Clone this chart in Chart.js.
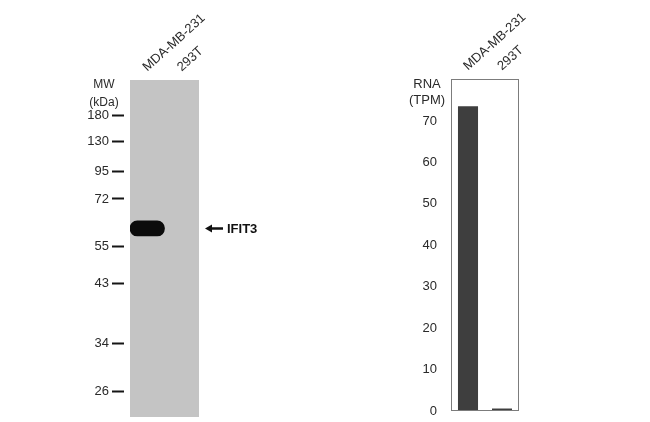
<!DOCTYPE html>
<html><head><meta charset="utf-8">
<script src="https://cdn.jsdelivr.net/npm/chart.js@4"></script>
<style>
html,body{margin:0;padding:0;background:#fff;width:650px;height:422px;overflow:hidden}
.c{position:absolute;top:0;width:325px;height:422px}
</style></head><body>
<div class="c" style="left:0"><canvas id="blot" width="325" height="422"></canvas></div>
<div class="c" style="left:325px"><canvas id="rna" width="325" height="422"></canvas></div>
<script>
// ---- data ----
const lanes = ['MDA-MB-231', '293T'];
const mwLabels = ['180', '130', '95', '72', '55', '43', '34', '26'];
const mwMobility = [0.106, 0.183, 0.272, 0.353, 0.495, 0.605, 0.783, 0.925]; // relative migration in lane
const bandMobility = [[0.418, 0.463], null];
const bandLabel = 'IFIT3';
const rnaValues = [73.6, 0.6];
const rnaTicks = [0, 10, 20, 30, 40, 50, 60, 70];

const FONT = "'Liberation Sans', Arial, sans-serif";
const TXT = '#2a2a2a';
Chart.defaults.font.family = FONT;
Chart.defaults.color = TXT;

const captionPlugin = {
  id: 'caption',
  afterDraw(chart, args, opts) {
    const {ctx, chartArea} = chart;
    ctx.save();
    ctx.fillStyle = TXT;
    ctx.font = opts.size + 'px ' + FONT;
    ctx.textAlign = 'center';
    ctx.textBaseline = 'middle';
    opts.lines.forEach((t, i) => ctx.fillText(t, chartArea.left + opts.dx, chartArea.top + opts.dy + i * opts.gap));
    ctx.restore();
  }
};

const lanePlugin = {
  id: 'lane',
  beforeDatasetsDraw(chart) {
    const {ctx, chartArea} = chart;
    ctx.save();
    ctx.fillStyle = '#c4c4c4';
    ctx.fillRect(chartArea.left, chartArea.top, chartArea.right - chartArea.left, chartArea.bottom - chartArea.top);
    ctx.restore();
  }
};

const arrowPlugin = {
  id: 'arrowLabel',
  afterDatasetsDraw(chart) {
    const {ctx, chartArea} = chart;
    const el = chart.getDatasetMeta(0).data[0];
    const y = Math.round((el.y + el.base) / 2) + 0.5;
    const x0 = chartArea.right + 6, x1 = chartArea.right + 24;
    ctx.save();
    ctx.strokeStyle = '#111';
    ctx.fillStyle = '#111';
    ctx.lineWidth = 2.5;
    ctx.beginPath(); ctx.moveTo(x0 + 4, y); ctx.lineTo(x1, y); ctx.stroke();
    ctx.beginPath(); ctx.moveTo(x0, y); ctx.lineTo(x0 + 7, y - 4); ctx.lineTo(x0 + 7, y + 4); ctx.closePath(); ctx.fill();
    ctx.font = 'bold 13px ' + FONT;
    ctx.textBaseline = 'middle';
    ctx.fillText(bandLabel, x1 + 4, y + 1);
    ctx.restore();
  }
};

const boxPlugin = {
  id: 'box',
  afterDatasetsDraw(chart) {
    const {ctx, chartArea} = chart;
    ctx.save();
    ctx.strokeStyle = '#7c7c7c';
    ctx.lineWidth = 1;
    ctx.strokeRect(chartArea.left + 0.5, chartArea.top + 0.5, chartArea.right - chartArea.left - 1, chartArea.bottom - chartArea.top - 1);
    ctx.restore();
  }
};

function noPad(s) { s.paddingTop = 0; s.paddingBottom = 0; s.paddingLeft = 0; s.paddingRight = 0; }

const laneTicks = {
  position: 'top',
  grid: {display: false},
  border: {display: false},
  ticks: {minRotation: 42, maxRotation: 42, color: TXT, font: {size: 13}, padding: -3, labelOffset: 8, autoSkip: false},
};

new Chart(document.getElementById('blot'), {
  type: 'bar',
  data: {labels: lanes, datasets: [{data: bandMobility, backgroundColor: '#0b0b0b', borderRadius: 8, borderSkipped: false, barPercentage: 1, categoryPercentage: 1}]},
  options: {
    responsive: false, animation: false, devicePixelRatio: 1,
    layout: {padding: {left: 0, right: 126, top: 0, bottom: 5}},
    plugins: {legend: {display: false}, tooltip: {enabled: false},
      caption: {lines: ['MW', '(kDa)'], dx: -26, dy: 5, gap: 18, size: 12}},
    scales: {
      x: Object.assign({}, laneTicks, {afterFit(s) { s.height = 80; noPad(s); }}),
      y: {
        reverse: true, min: 0, max: 1,
        afterBuildTicks(s) { s.ticks = mwMobility.map(v => ({value: v})); },
        ticks: {callback: (v, i) => mwLabels[i], padding: 3, color: TXT, font: {size: 13}, autoSkip: false},
        grid: {drawOnChartArea: false, tickLength: 18, tickBorderDash: [12, 6], tickBorderDashOffset: 0, tickWidth: 2, tickColor: '#151515'},
        border: {display: false},
        afterFit(s) { s.width = 130; noPad(s); }
      }
    }
  },
  plugins: [lanePlugin, arrowPlugin, captionPlugin]
});

new Chart(document.getElementById('rna'), {
  type: 'bar',
  data: {labels: lanes, datasets: [{data: rnaValues, backgroundColor: '#3e3e3e', barPercentage: 0.59, categoryPercentage: 1}]},
  options: {
    responsive: false, animation: false, devicePixelRatio: 1,
    layout: {padding: {left: 0, right: 131, top: 0, bottom: 11}},
    plugins: {legend: {display: false}, tooltip: {enabled: false},
      caption: {lines: ['RNA', '(TPM)'], dx: -24, dy: 5, gap: 16, size: 13}},
    scales: {
      x: Object.assign({}, laneTicks, {afterFit(s) { s.height = 79; noPad(s); }}),
      y: {
        min: 0, max: 80.15,
        afterBuildTicks(s) { s.ticks = rnaTicks.map(v => ({value: v})); },
        ticks: {padding: 14, color: TXT, font: {size: 13}, autoSkip: false},
        grid: {display: false, drawTicks: false},
        border: {display: false},
        afterFit(s) { s.width = 126; noPad(s); }
      }
    }
  },
  plugins: [boxPlugin, captionPlugin]
});
</script>
</body></html>
